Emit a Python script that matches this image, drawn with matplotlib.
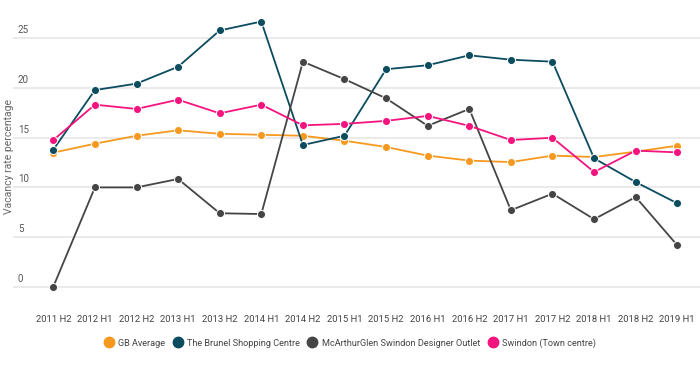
import matplotlib
matplotlib.use("Agg")
import matplotlib.pyplot as plt
from matplotlib.lines import Line2D
from matplotlib.transforms import blended_transform_factory

plt.rcParams['font.family'] = ['Roboto', 'DejaVu Sans']

periods = ["2011 H2", "2012 H1", "2012 H2", "2013 H1", "2013 H2", "2014 H1",
           "2014 H2", "2015 H1", "2015 H2", "2016 H1", "2016 H2", "2017 H1",
           "2017 H2", "2018 H1", "2018 H2", "2019 H1"]

gb_average = [13.5, 14.4, 15.2, 15.75, 15.4, 15.3, 15.2, 14.7,
              14.07, 13.2, 12.7, 12.55, 13.2, 13.06, 13.6, 14.2]
brunel = [13.8, 19.8, 20.45, 22.15, 25.8, 26.7, 14.27, 15.2,
          21.9, 22.3, 23.3, 22.86, 22.66, 12.93, 10.54, 8.4]
mcarthurglen = [0.0, 10.0, 10.0, 10.85, 7.4, 7.32, 22.66, 20.9,
                18.97, 16.2, 17.9, 7.7, 9.37, 6.8, 9.03, 4.17]
swindon = [14.77, 18.33, 17.9, 18.83, 17.46, 18.33, 16.25, 16.4,
           16.7, 17.2, 16.2, 14.77, 15.0, 11.55, 13.7, 13.53]

series_names = ["GB Average", "The Brunel Shopping Centre",
                "McArthurGlen Swindon Designer Outlet", "Swindon (Town centre)"]
series_colors = ["#f7991f", "#0b4c5f", "#454545", "#f5147e"]
y_ticks = [0, 5, 10, 15, 20, 25]

W, H = 700, 377
fig = plt.figure(figsize=(W / 100, H / 100), dpi=100)
ax = fig.add_axes([13 / W, (H - 291.7) / H, (W - 13) / W, (291.7 - 13.6) / H])

x = list(range(len(periods)))
for vals, col in zip([gb_average, brunel, mcarthurglen, swindon], series_colors):
    ax.plot(x, vals, color=col, lw=1.3, marker='o', ms=5.8,
            mfc=col, mec='white', mew=0.7, zorder=3)

ax.set_xlim(-0.969, 15.546)
ax.set_ylim(-0.5, 27.5)
ax.set_yticks(y_ticks)
ax.set_yticklabels([])
ax.tick_params(axis='y', length=0)
ax.grid(axis='y', color='#e6e6e6', lw=1.2, zorder=0)
for s in ax.spines.values():
    s.set_visible(False)

trans = blended_transform_factory(ax.transAxes, ax.transData)
for t in y_ticks:
    ax.text(5 / (W - 13), t + 0.3, str(t), transform=trans, ha='left', va='bottom',
            fontsize=7, color='#555555')

ax.set_xticks(x)
ax.set_xticklabels(periods, fontsize=6.8, color='#444444')
ax.tick_params(axis='x', length=0, pad=17)

fig.text(9 / W, 1 - 157 / H, "Vacancy rate percentage", rotation=90,
         ha='center', va='center', fontsize=7.5, color='#666666')

handles = [Line2D([], [], ls='none', marker='o', ms=7.5, mfc=c, mec=c) for c in series_colors]
fig.legend(handles, series_names, loc='center', bbox_to_anchor=(350 / W, 1 - 343 / H),
           ncol=4, frameon=False, fontsize=6.6, handletextpad=0.5, columnspacing=0.9,
           handlelength=1.0, labelcolor='#444444')

fig.savefig("out.png", dpi=100, facecolor='white')
